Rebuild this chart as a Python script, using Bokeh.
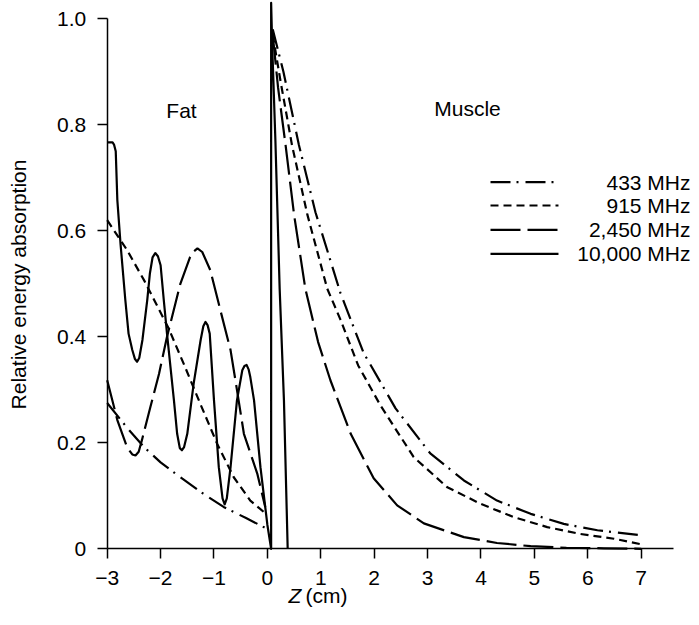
import math
from bokeh.plotting import figure
from bokeh.models import Range1d, FixedTicker, Label
from bokeh.embed import file_html
from bokeh.resources import INLINE

# ---------------- data ----------------
freq_labels = ["433 MHz", "915 MHz", "2,450 MHz", "10,000 MHz"]
region_labels = ["Fat", "Muscle"]
y_title = "Relative energy absorption"

# 433 MHz
fat_z_433 = [-3.0, -2.6, -2.31, -2.0, -1.63, -1.2, -0.82, -0.4, -0.05]
fat_v_433 = [0.275, 0.225, 0.192, 0.163, 0.135, 0.104, 0.079, 0.058, 0.040]
mus_z_433 = [0.1, 0.3, 0.59, 0.9, 1.37, 1.8, 2.4, 3.05, 3.68, 4.3, 4.93, 5.55, 6.18, 6.95]
mus_v_433 = [0.98, 0.90, 0.762, 0.635, 0.482, 0.37, 0.265, 0.180, 0.129, 0.091, 0.066, 0.047, 0.035, 0.026]

# 915 MHz
fat_z_915 = [-3.0, -2.63, -2.3, -1.85, -1.55, -1.25, -0.94, -0.63, -0.32, -0.05]
fat_v_915 = [0.62, 0.564, 0.505, 0.416, 0.345, 0.272, 0.198, 0.135, 0.091, 0.068]
mus_z_915 = [0.1, 0.25, 0.46, 0.75, 1.12, 1.37, 1.7, 2.12, 2.74, 3.37, 3.99, 4.61, 5.24, 5.86, 6.49, 6.98]
mus_v_915 = [0.97, 0.88, 0.762, 0.63, 0.491, 0.432, 0.346, 0.27, 0.173, 0.116, 0.085, 0.060, 0.041, 0.028, 0.019, 0.009]

# 2,450 MHz
fat_z_2450 = [-3.0, -2.81, -2.63, -2.53, -2.47, -2.41, -2.35, -2.19, -2.03, -1.88, -1.63, -1.45, -1.38,
              -1.31, -1.22, -1.07, -0.88, -0.69, -0.57, -0.44, -0.19, -0.04]
fat_v_2450 = [0.318, 0.243, 0.192, 0.178, 0.176, 0.183, 0.205, 0.268, 0.33, 0.40, 0.50, 0.550, 0.561,
              0.567, 0.560, 0.526, 0.45, 0.375, 0.30, 0.217, 0.142, 0.079]
mus_z_2450 = [0.1, 0.2, 0.34, 0.5, 0.71, 0.95, 1.18, 1.56, 1.99, 2.43, 2.93, 3.68, 4.3, 4.93, 5.6, 6.3, 7.0]
mus_v_2450 = [0.97, 0.87, 0.762, 0.63, 0.491, 0.39, 0.318, 0.217, 0.133, 0.082, 0.048, 0.022, 0.011,
              0.005, 0.002, 0.001, 0.0]

# 10,000 MHz (fat part continues straight into the muscle part)
fat_z_10000 = [-3.0, -2.9, -2.87, -2.84, -2.81, -2.75, -2.66, -2.6, -2.53, -2.48, -2.44, -2.40, -2.34,
               -2.25, -2.2, -2.15, -2.1, -2.05, -2.0, -1.94, -1.88, -1.75, -1.69, -1.64, -1.6, -1.56,
               -1.5, -1.38, -1.25, -1.2, -1.16, -1.12, -1.08, -1.0, -0.91, -0.84, -0.8, -0.76, -0.69,
               -0.57, -0.47, -0.43, -0.39, -0.35, -0.32, -0.25, -0.13, 0.0, 0.07]
fat_v_10000 = [0.767, 0.767, 0.762, 0.75, 0.658, 0.575, 0.469, 0.406, 0.375, 0.358, 0.353, 0.36, 0.394,
               0.469, 0.52, 0.55, 0.558, 0.552, 0.535, 0.469, 0.406, 0.28, 0.217, 0.19, 0.186, 0.192,
               0.217, 0.312, 0.394, 0.42, 0.428, 0.422, 0.406, 0.28, 0.154, 0.095, 0.084, 0.095, 0.154,
               0.28, 0.337, 0.345, 0.347, 0.338, 0.324, 0.28, 0.154, 0.045, 0.0]
mus_z_10000 = [0.07, 0.09, 0.15, 0.23, 0.31, 0.38]
mus_v_10000 = [1.03, 0.95, 0.77, 0.49, 0.28, 0.0]

x_ticks = [-3, -2, -1, 0, 1, 2, 3, 4, 5, 6, 7]
x_tick_labels = ["\u22123", "\u22122", "\u22121", "0", "1", "2", "3", "4", "5", "6", "7"]
y_ticks = [0, 0.2, 0.4, 0.6, 0.8, 1.0]
y_tick_labels = ["0", "0.2", "0.4", "0.6", "0.8", "1.0"]

# ---------------- styling / layout ----------------
FONT = "Liberation Sans"
FS = "21px"
dashes = ["20 6 2 7", "8 5", "30 7", "solid"]
LW = 2.2

# the frame fills the whole canvas, axes are drawn at fixed data locations
p = figure(width=691, height=609, x_range=Range1d(-4.998, 7.942), y_range=Range1d(-0.1145, 1.0345),
           output_backend="svg", toolbar_location=None,
           min_border=0, min_border_left=0, min_border_right=0, min_border_top=0, min_border_bottom=0)
p.outline_line_color = None
p.grid.visible = False
p.background_fill_color = "white"
p.border_fill_color = "white"

for ax in (p.xaxis[0], p.yaxis[0]):
    ax.axis_line_color = "black"
    ax.axis_line_width = 1.5
    ax.major_tick_line_color = "black"
    ax.major_tick_line_width = 1.5
    ax.major_tick_in = 0
    ax.major_tick_out = 10
    ax.minor_tick_line_color = None
    ax.major_label_text_font = FONT
    ax.major_label_text_font_size = FS
    ax.major_label_text_color = "black"

p.xaxis.fixed_location = 0
p.xaxis.bounds = (-3, 7.6)
p.xaxis.ticker = FixedTicker(ticks=x_ticks)
p.xaxis.major_label_overrides = dict(zip(x_ticks, x_tick_labels))
p.xaxis.major_label_standoff = 12

p.yaxis.fixed_location = -3
p.yaxis.bounds = (0, 1.0)
p.yaxis.ticker = FixedTicker(ticks=y_ticks)
p.yaxis.major_label_overrides = dict(zip(y_ticks, y_tick_labels))
p.yaxis.major_label_standoff = 11

# curves
p.line(fat_z_433, fat_v_433, line_color="black", line_width=LW, line_dash=dashes[0])
p.line(mus_z_433, mus_v_433, line_color="black", line_width=LW, line_dash=dashes[0])
p.line(fat_z_915, fat_v_915, line_color="black", line_width=LW, line_dash=dashes[1])
p.line(mus_z_915, mus_v_915, line_color="black", line_width=LW, line_dash=dashes[1])
p.line(fat_z_2450, fat_v_2450, line_color="black", line_width=LW, line_dash=dashes[2])
p.line(mus_z_2450, mus_v_2450, line_color="black", line_width=LW, line_dash=dashes[2])
p.line(fat_z_10000 + mus_z_10000, fat_v_10000 + mus_v_10000, line_color="black",
       line_width=LW, line_join="round")

# legend (manual, right-aligned labels)
leg_x0, leg_x1, leg_text_x = 4.178, 5.451, 7.923
leg_rows = [0.6917, 0.6477, 0.6019, 0.5566]
for lab, dash, ry in zip(freq_labels, dashes, leg_rows):
    p.line([leg_x0, leg_x1], [ry, ry], line_color="black", line_width=LW, line_dash=dash)
    p.add_layout(Label(x=leg_text_x, y=ry, text=lab, text_align="right", text_baseline="middle",
                       text_font=FONT, text_font_size=FS, text_color="black"))

# region labels
for lab, lx, ly in zip(region_labels, [-1.609, 3.747], [0.827, 0.831]):
    p.add_layout(Label(x=lx, y=ly, text=lab, text_align="center", text_baseline="middle",
                       text_font=FONT, text_font_size=FS, text_color="black"))

# axis titles
p.add_layout(Label(x=-4.652, y=0.4987, text=y_title, angle=math.pi / 2, text_align="center",
                   text_baseline="middle", text_font=FONT, text_font_size=FS, text_color="black"))
p.add_layout(Label(x=0.393, y=-0.088, text="Z", text_align="left", text_baseline="middle",
                   text_font=FONT, text_font_size=FS, text_font_style="italic", text_color="black"))
p.add_layout(Label(x=0.712, y=-0.088, text="(cm)", text_align="left", text_baseline="middle",
                   text_font=FONT, text_font_size=FS, text_color="black"))

open("out.html", "w").write(file_html(p, INLINE))
